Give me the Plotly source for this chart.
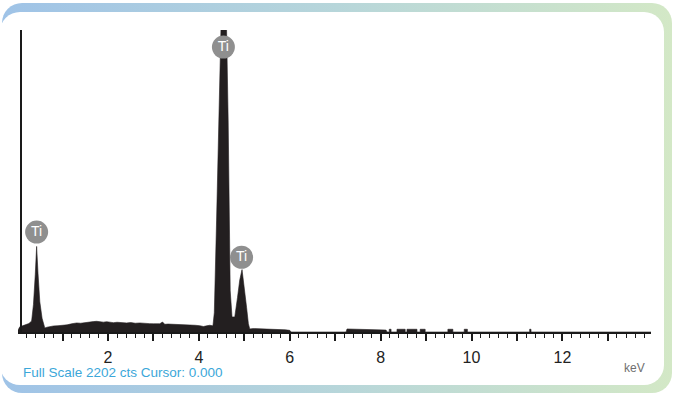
import base64
import plotly.graph_objects as go

# ---------------- data ----------------
energy_kev = [
    0.00, 0.06, 0.12, 0.20, 0.26, 0.32, 0.36, 0.40, 0.43, 0.46, 0.50, 0.55, 0.58,
    0.61, 0.66, 0.72, 0.80, 0.90, 1.02, 1.10, 1.20, 1.31, 1.40, 1.50, 1.60, 1.68,
    1.75, 1.82, 1.90, 1.97, 2.04, 2.12, 2.20, 2.30, 2.41, 2.50, 2.60, 2.70, 2.78,
    2.86, 2.92, 3.00, 3.07, 3.14, 3.20, 3.25, 3.32, 3.45, 3.55, 3.66, 3.80, 3.92,
    4.02, 4.10, 4.17, 4.24, 4.31, 4.34, 4.39, 4.44, 4.48, 4.52, 4.57, 4.61, 4.645,
    4.665, 4.69, 4.73, 4.79, 4.85, 4.90, 4.95, 5.00, 5.05, 5.09, 5.12, 5.20, 5.34,
    5.45, 5.56, 5.66, 5.78, 5.90, 6.00, 6.03,
    7.24, 7.26, 7.70, 8.12, 8.14,
    8.19, 8.19, 8.23, 8.23,
    8.36, 8.36, 8.54, 8.54,
    8.58, 8.58, 8.80, 8.80,
    8.87, 8.87, 8.98, 8.98,
    9.48, 9.48, 9.59, 9.59,
    9.84, 9.84, 9.91, 9.91,
    11.28, 11.28, 11.31, 11.31,
    13.95,
]
counts = [
    0, 38, 45, 53, 62, 80, 200, 420, 624, 430, 220, 100, 55,
    29, 35, 41, 44, 46, 49, 52, 60, 66, 64, 70, 72, 76,
    78, 74, 72, 75, 70, 68, 71, 67, 66, 69, 64, 66, 66,
    62, 61, 60, 58, 60, 73, 56, 58, 57, 55, 56, 52, 49,
    46, 40, 45, 49, 45, 140, 816, 1545, 2190, 2700, 2700, 2202, 1545,
    816, 300, 110, 110, 250, 380, 455, 330, 180, 60, 22, 25, 24,
    20, 22, 18, 19, 16, 12, 0,
    0, 22, 18, 14, 0,
    0, 20, 20, 0,
    0, 20, 20, 0,
    0, 20, 20, 0,
    0, 20, 20, 0,
    0, 20, 20, 0,
    0, 20, 20, 0,
    0, 20, 20, 0,
    0,
]

label_names = ["Ti", "Ti", "Ti"]
label_kev = [0.43, 4.54, 4.94]
label_counts = [729, 2078, 545]

tick_vals = list(range(1, 14))
tick_text = ["", "2", "", "4", "", "6", "", "8", "", "10", "", "12", ""]

full_scale = 2202
footer_text = "Full Scale 2202 cts Cursor: 0.000"
unit_text = "keV"

# ---------------- geometry ----------------
W, H = 674, 395
ML, MR, MT, MB = 18, 23, 30, 63
PW, PH = W - ML - MR, H - MT - MB


def px_to_paper(px, py):
    return (px - ML) / PW, 1 - (py - MT) / PH


svg = (
    "<svg xmlns='http://www.w3.org/2000/svg' width='674' height='395' viewBox='0 0 674 395'>"
    "<defs><linearGradient id='g' x1='0' x2='1' y1='0' y2='0'>"
    "<stop offset='0' stop-color='#9fc3e7'/>"
    "<stop offset='0.5' stop-color='#b7d6da'/>"
    "<stop offset='1' stop-color='#d3e8c6'/>"
    "</linearGradient></defs>"
    "<rect x='2' y='3' width='670' height='390' rx='20' fill='url(#g)'/>"
    "<rect x='0' y='12' width='664' height='373' rx='20' fill='#ffffff'/>"
    "</svg>"
)
svg_uri = "data:image/svg+xml;base64," + base64.b64encode(svg.encode()).decode()

fig = go.Figure()

fig.add_trace(go.Scatter(
    x=energy_kev, y=counts, mode="lines", fill="tozeroy",
    fillcolor="#231f20", line=dict(color="#231f20", width=0.6),
    hoverinfo="skip", showlegend=False,
))

fig.add_trace(go.Scatter(
    x=label_kev, y=label_counts, mode="markers+text", text=label_names,
    textposition="middle center",
    textfont=dict(family="Liberation Sans, Arial, sans-serif", size=14, color="#ffffff"),
    marker=dict(size=23, color="#8f8f8f", line=dict(width=0)),
    cliponaxis=False, showlegend=False, hoverinfo="skip",
))

x0, y0 = px_to_paper(0, 0)
fig.add_layout_image(dict(
    source=svg_uri, xref="paper", yref="paper", x=x0, y=y0,
    sizex=W / PW, sizey=H / PH, xanchor="left", yanchor="top",
    sizing="stretch", layer="below",
))

fx, fy = px_to_paper(21, 372)
fig.add_annotation(
    text=footer_text, xref="paper", yref="paper", x=fx, y=fy,
    xanchor="left", yanchor="middle", showarrow=False,
    font=dict(family="Liberation Sans Narrow, Arial Narrow, Liberation Sans, sans-serif",
              size=13.5, color="#3ba7d9"),
)
kx, ky = px_to_paper(634, 368)
fig.add_annotation(
    text=unit_text, xref="paper", yref="paper", x=kx, y=ky,
    xanchor="center", yanchor="middle", showarrow=False,
    font=dict(family="Liberation Sans, Arial, sans-serif", size=12, color="#6f6f6f"),
)

fig.update_layout(
    width=W, height=H,
    margin=dict(l=ML, r=MR, t=MT, b=MB, pad=0),
    paper_bgcolor="#ffffff", plot_bgcolor="rgba(0,0,0,0)",
    font=dict(family="Liberation Sans, Arial, sans-serif", color="#222222"),
    xaxis=dict(
        range=[0.02, 13.95], showgrid=False, zeroline=False,
        showline=True, linecolor="#1a1a1a", linewidth=2,
        tickmode="array", tickvals=tick_vals, ticktext=tick_text,
        ticks="outside", ticklen=7, tickwidth=1.6, tickcolor="#1a1a1a",
        tickfont=dict(size=16, color="#222222"),
        ticklabelstandoff=3,
        minor=dict(dtick=0.2, tick0=0, ticks="outside", ticklen=4,
                   tickwidth=1.4, tickcolor="#1a1a1a", showgrid=False),
    ),
    yaxis=dict(
        range=[0, full_scale], showgrid=False, zeroline=False,
        showline=True, linecolor="#1a1a1a", linewidth=2,
        anchor="free", position=0.004,
        showticklabels=False, ticks="",
    ),
)

fig.write_html(
    "out.html",
    config={"displayModeBar": False},
    post_script="document.body.style.margin='0';document.body.style.padding='0';",
)
